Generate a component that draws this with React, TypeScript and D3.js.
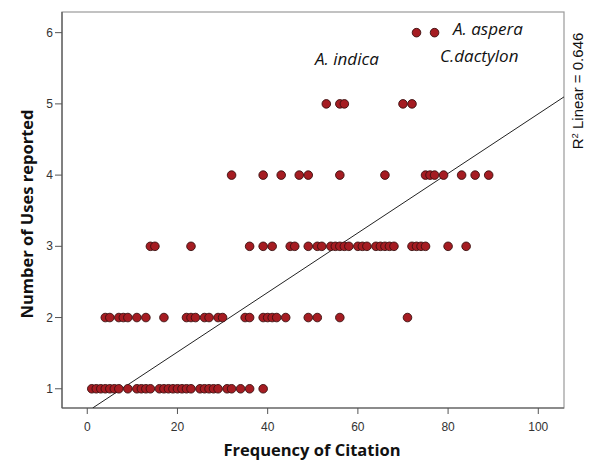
import React from "react";
import * as d3 from "d3";

const uses1 = [1, 2, 3, 4, 5, 6, 7, 9, 11, 12, 13, 14, 16, 17, 18, 19, 20, 21, 22, 23, 25, 26, 27, 28, 29, 31, 32, 34, 36, 39];
const uses2 = [4, 5, 7, 8, 9, 11, 13, 17, 22, 23, 24, 26, 27, 29, 30, 35, 36, 39, 40, 41, 42, 44, 49, 51, 56, 71];
const uses3 = [14, 15, 23, 36, 39, 41, 45, 46, 49, 51, 52, 54, 55, 56, 57, 58, 60, 61, 62, 64, 65, 66, 67, 68, 72, 73, 74, 75, 80, 84];
const uses4 = [32, 39, 43, 47, 49, 56, 66, 75, 76, 77, 79, 83, 86, 89];
const uses5 = [53, 56, 57, 70, 72];
const uses6 = [73, 77];
const seriesByUses: [number, number[]][] = [[1, uses1], [2, uses2], [3, uses3], [4, uses4], [5, uses5], [6, uses6]];

const xTicks = [0, 20, 40, 60, 80, 100];
const yTicks = [1, 2, 3, 4, 5, 6];
const fitIntercept = 0.68;
const fitSlope = 0.0418;
const rSquared = "0.646";
const annotations = [
  { label: "A. aspera", x: 81.1, y: 5.97 },
  { label: "A. indica", x: 50.5, y: 5.55 },
  { label: "C.dactylon", x: 78.2, y: 5.59 },
];

export default function App() {
  const left = 62, right = 564, top = 12, bottom = 408;
  const x = d3.scaleLinear().domain([-5.6, 105.7]).range([left, right]);
  const y = d3.scaleLinear().domain([0.73, 6.29]).range([bottom, top]);

  const points: { fx: number; u: number }[] = [];
  seriesByUses.forEach(([u, arr]) => arr.forEach((fx) => points.push({ fx, u })));

  const [x0, x1] = x.domain();
  const [y0, y1] = y.domain();
  const lineStartX = Math.max(x0, (y0 - fitIntercept) / fitSlope);
  const lineEndX = Math.min(x1, (y1 - fitIntercept) / fitSlope);
  const fitLine = d3.line<number>().x((d) => x(d)).y((d) => y(fitIntercept + fitSlope * d));

  const tickFont = "'Liberation Sans', Arial, sans-serif";
  const labelFont = "'Open Sans', 'Liberation Sans', sans-serif";

  return (
    <svg width={590} height={461} style={{ position: "absolute", left: 0, top: 0 }} fontFamily={tickFont}>
      <rect x={0} y={0} width={590} height={461} fill="#fff" />
      <defs>
        <clipPath id="plotclip">
          <rect x={left} y={top} width={right - left} height={bottom - top} />
        </clipPath>
      </defs>
      <rect x={left} y={top} width={right - left} height={bottom - top} fill="none" stroke="#9a9a9a" strokeWidth={1.2} />
      <line x1={left} x2={right} y1={bottom} y2={bottom} stroke="#555" strokeWidth={1.2} />
      <line x1={left} x2={left} y1={top} y2={bottom} stroke="#555" strokeWidth={1.2} />
      {xTicks.map((t) => (
        <g key={"x" + t}>
          <line x1={x(t)} x2={x(t)} y1={bottom} y2={bottom + 6} stroke="#555" />
          <text x={x(t)} y={bottom + 23} textAnchor="middle" fontSize={12} fill="#333">{t}</text>
        </g>
      ))}
      {yTicks.map((t) => (
        <g key={"y" + t}>
          <line x1={left - 7} x2={left} y1={y(t)} y2={y(t)} stroke="#555" />
          <text x={left - 9} y={y(t) + 4} textAnchor="end" fontSize={12} fill="#333">{t}</text>
        </g>
      ))}
      <path d={fitLine([lineStartX, lineEndX]) || ""} stroke="#222" strokeWidth={1} fill="none" clipPath="url(#plotclip)" />
      {points.map((p, i) => (
        <circle key={i} cx={x(p.fx)} cy={y(p.u)} r={4.3} fill="#a51c22" stroke="#3a1010" strokeWidth={0.9} />
      ))}
      {annotations.map((a) => (
        <text key={a.label} x={x(a.x)} y={y(a.y)} fontSize={17} fontStyle="italic" fill="#111" fontFamily={labelFont}>{a.label}</text>
      ))}
      <text transform={`translate(583,${91}) rotate(-90)`} textAnchor="middle" fontSize={15} fill="#111" fontFamily={tickFont}>
        R<tspan dy={-5} fontSize={9.5}>2</tspan><tspan dy={5}> Linear = {rSquared}</tspan>
      </text>
      <text x={312} y={456} textAnchor="middle" fontSize={16.5} fontWeight="bold" fill="#111" fontFamily={labelFont}>Frequency of Citation</text>
      <text transform={`translate(33,214) rotate(-90)`} textAnchor="middle" fontSize={16.5} fontWeight="bold" fill="#111" fontFamily={labelFont}>Number of Uses reported</text>
    </svg>
  );
}
